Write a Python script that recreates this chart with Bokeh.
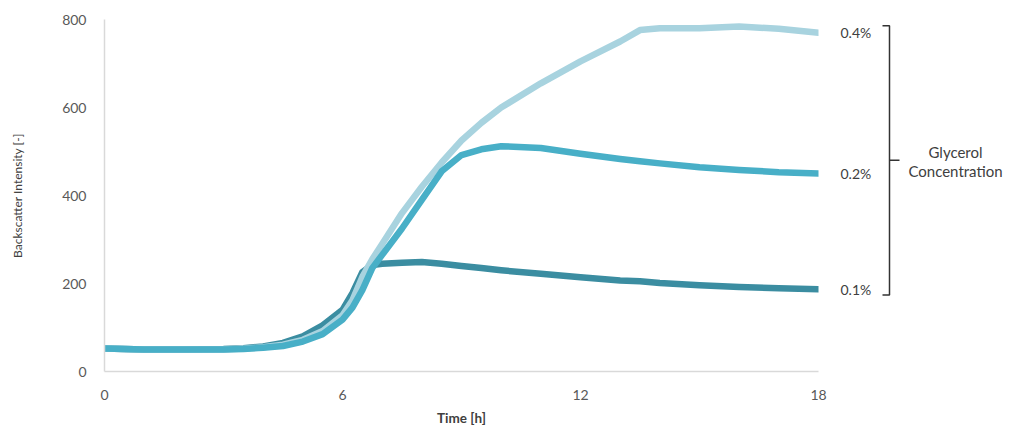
from bokeh.plotting import figure
from bokeh.models import Range1d, FixedTicker
from bokeh.layouts import row
from bokeh.embed import file_html
from bokeh.resources import INLINE
from bokeh.core.properties import value

# ---- data ----
time_h = [0, 1, 2, 3, 3.5, 4, 4.5, 5, 5.5, 6, 6.25, 6.5, 6.75, 7, 7.5, 8, 8.5,
          9, 9.5, 10, 11, 12, 13, 13.5, 14, 15, 16, 17, 18]
glyc_01 = [52, 50, 50, 51, 53, 57, 65, 80, 105, 140, 178, 226, 242, 245, 247, 249, 245,
           240, 235, 230, 222, 214, 207, 205, 201, 196, 192, 189, 187]
glyc_02 = [52, 50, 50, 50, 51, 54, 58, 68, 85, 118, 145, 185, 235, 265, 325, 390, 455,
           492, 505, 512, 508, 495, 483, 478, 473, 464, 458, 453, 450]
glyc_04 = [52, 50, 50, 50, 52, 55, 61, 72, 92, 128, 162, 215, 255, 290, 360, 420, 475,
           525, 565, 600, 655, 705, 750, 776, 780, 780, 784, 779, 770]
series_labels = ["0.1%", "0.2%", "0.4%"]
x_ticks = [0, 6, 12, 18]
y_ticks = [0, 200, 400, 600, 800]
bracket_title = ["Glycerol", "Concentration"]

colors = {"0.1%": "#3b8da1", "0.2%": "#48afc7", "0.4%": "#a8d3df"}
FONT = "Lato"
TXT = "#404040"

p = figure(width=828, height=428, x_range=Range1d(0, 18), y_range=Range1d(0, 800),
           output_backend="svg", toolbar_location=None,
           min_border_left=104, min_border_right=10, min_border_top=19, min_border_bottom=57)
p.outline_line_color = None
p.grid.visible = False

series = {"0.1%": glyc_01, "0.2%": glyc_02, "0.4%": glyc_04}
for lab in ["0.1%", "0.4%", "0.2%"]:
    p.line(time_h, series[lab], line_width=6.5, line_color=colors[lab],
           line_cap="round", line_join="round")

for ax in (p.xaxis[0], p.yaxis[0]):
    ax.axis_line_color = "#d9d9d9"
    ax.axis_line_width = 1.5
    ax.major_tick_line_color = None
    ax.minor_tick_line_color = None
    ax.major_label_text_font = FONT
    ax.major_label_text_font_size = "14px"
    ax.major_label_text_color = "#595959"
    ax.axis_label_text_font = FONT
    ax.axis_label_text_color = TXT
    ax.axis_label_text_font_style = "normal"

p.xaxis.ticker = FixedTicker(ticks=x_ticks)
p.yaxis.ticker = FixedTicker(ticks=y_ticks)
p.xaxis.major_label_standoff = 12
p.yaxis.major_label_standoff = 12
p.xaxis.axis_label = "Time [h]"
p.xaxis.axis_label_text_font_size = "13.5px"
p.xaxis.axis_label_text_font_style = "bold"
p.xaxis.axis_label_standoff = 7
p.yaxis.axis_label = "Backscatter Intensity [-]"
p.yaxis.axis_label_text_font_size = "12px"
p.yaxis.axis_label_standoff = 34

# ---- right-hand annotation panel ----
p2 = figure(width=180, height=428, x_range=Range1d(0, 180), y_range=p.y_range,
            output_backend="svg", toolbar_location=None,
            x_axis_type=None, y_axis_type=None,
            min_border_left=0, min_border_right=0, min_border_top=19, min_border_bottom=57)
p2.outline_line_color = None
p2.grid.visible = False

last_vals = [series[l][-1] for l in series_labels]
p2.text(x=[12] * 3, y=last_vals, text=series_labels, text_font=value(FONT),
        text_font_size="14px", text_color=TXT, text_align="left", text_baseline="middle")

top = max(last_vals) + 16
bot = min(last_vals) - 13
mid = 480
p2.line(x=[54, 61, 61, 54], y=[top, top, bot, bot], line_color="#333333", line_width=1.5)
p2.line(x=[61, 71], y=[mid, mid], line_color="#333333", line_width=1.5)
p2.text(x=[127, 127], y=[mid + 20, mid - 25], text=bracket_title, text_font=value(FONT),
        text_font_size="15px", text_color=TXT, text_align="center", text_baseline="middle")

layout = row(p, p2)
open("out.html", "w").write(file_html(layout, INLINE))
